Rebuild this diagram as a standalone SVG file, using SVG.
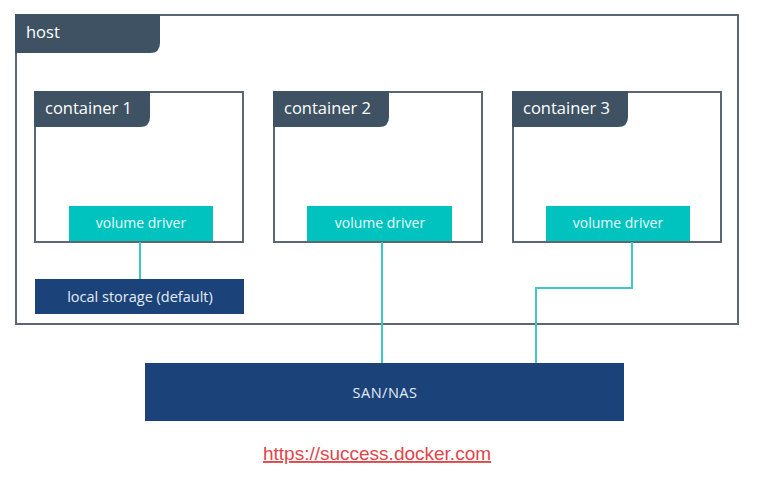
<svg xmlns="http://www.w3.org/2000/svg" width="766" height="482" viewBox="0 0 766 482">
<style>
.frame{fill:#fff;stroke:#5b6773;stroke-width:2}
.tab{fill:#3e5264}
.tabt{font-family:"Open Sans",sans-serif;font-size:16.5px;fill:#fff}
.drv{fill:#00c3bf}
.drvt{font-family:"Open Sans",sans-serif;font-size:14px;fill:#e8fbfa;text-anchor:middle}
.store{fill:#1b437a}
.storet{font-family:"Open Sans",sans-serif;font-size:14.5px;fill:#e6ecf4;text-anchor:middle}
.conn{fill:none;stroke:#3cc9c5;stroke-width:2}
.url{font-family:"Liberation Sans",Arial,sans-serif;font-size:19px;fill:#e2454a;text-decoration:underline;text-anchor:middle}
</style>
<rect width="766" height="482" fill="#fff"/>
<g id="host">
<rect class="frame" x="16" y="15" width="722" height="309"/>
<path class="tab" d="M15,14 H160 V43 Q160,53 150,53 H15 Z"/>
<text class="tabt" x="26" y="38">host</text>
</g>
<g id="container1">
<rect class="frame" x="35" y="92" width="208" height="150"/>
<path class="tab" d="M34,91 H150 V117 Q150,127 140,127 H34 Z"/>
<text class="tabt" x="45" y="114">container 1</text>
</g>
<g id="container2">
<rect class="frame" x="274" y="92" width="208" height="150"/>
<path class="tab" d="M273,91 H389 V117 Q389,127 379,127 H273 Z"/>
<text class="tabt" x="284" y="114">container 2</text>
</g>
<g id="container3">
<rect class="frame" x="513" y="92" width="208" height="150"/>
<path class="tab" d="M512,91 H628 V117 Q628,127 618,127 H512 Z"/>
<text class="tabt" x="523" y="114">container 3</text>
</g>
<g id="driver1">
<rect class="drv" x="69" y="206" width="144" height="35"/>
<text class="drvt" x="141" y="228">volume driver</text>
</g>
<g id="driver2">
<rect class="drv" x="307" y="206" width="145" height="35"/>
<text class="drvt" x="380" y="228">volume driver</text>
</g>
<g id="driver3">
<rect class="drv" x="546" y="206" width="144" height="35"/>
<text class="drvt" x="618" y="228">volume driver</text>
</g>
<g id="local-storage">
<rect class="store" x="35" y="279" width="209" height="35"/>
<text class="storet" x="140" y="302">local storage (default)</text>
</g>
<g id="san-nas">
<rect class="store" x="145" y="363" width="479" height="58"/>
<text class="storet" x="385" y="398" letter-spacing="0.5">SAN/NAS</text>
</g>
<g id="connectors">
<path class="conn" d="M140,242 V279"/>
<path class="conn" d="M382,242 V363"/>
<path class="conn" d="M632,242 V288 H536 V363"/>
</g>
<text class="url" x="377" y="460">https://success.docker.com</text>
</svg>
